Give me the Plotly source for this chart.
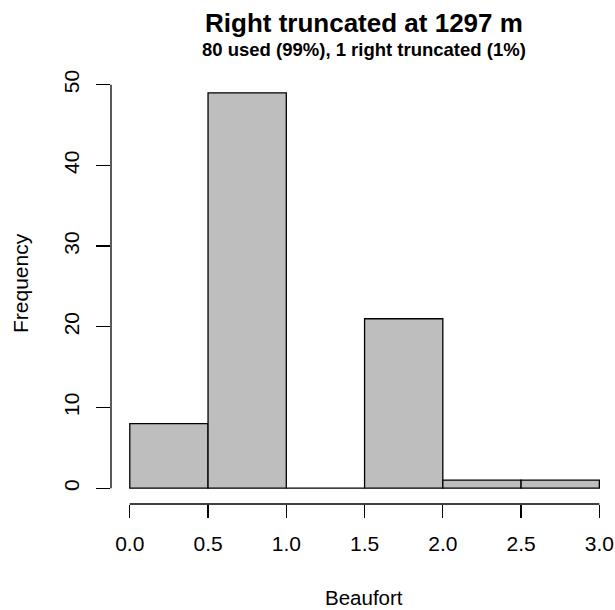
import plotly.graph_objects as go

breaks = [0.0, 0.5, 1.0, 1.5, 2.0, 2.5, 3.0]
counts = [8, 49, 0, 21, 1, 1]
x_ticks = [0.0, 0.5, 1.0, 1.5, 2.0, 2.5, 3.0]
x_tick_labels = ["0.0", "0.5", "1.0", "1.5", "2.0", "2.5", "3.0"]
y_ticks = [0, 10, 20, 30, 40, 50]
y_tick_labels = ["0", "10", "20", "30", "40", "50"]

mids = [(a + b) / 2 for a, b in zip(breaks[:-1], breaks[1:])]
widths = [b - a for a, b in zip(breaks[:-1], breaks[1:])]

FONT = "Liberation Sans, Arial, Helvetica, sans-serif"

fig = go.Figure()
fig.add_trace(go.Bar(
    x=mids, y=counts, width=widths,
    marker=dict(color="#BEBEBE", line=dict(color="black", width=1.3)),
    hoverinfo="skip",
))

W, H = 615, 610
L, R, T, B = 111, 0, 77, 106

fig.update_layout(
    width=W, height=H,
    margin=dict(l=L, r=R, t=T, b=B),
    paper_bgcolor="white", plot_bgcolor="white",
    showlegend=False,
    font=dict(family=FONT, color="black", size=21),
    bargap=0,
    xaxis=dict(
        range=[-0.12, 3.10], showgrid=False, zeroline=False, showline=False,
        tickmode="array", tickvals=x_ticks, ticktext=x_tick_labels,
        ticks="outside", ticklen=13, tickwidth=1.3, tickcolor="black",
        tickfont=dict(size=21), ticklabelstandoff=8,
    ),
    yaxis=dict(
        range=[-1.96, 50.96], showgrid=False, zeroline=False, showline=False,
        tickmode="array", tickvals=y_ticks, ticktext=y_tick_labels,
        ticks="outside", ticklen=14, tickwidth=1.3, tickcolor="black",
        tickfont=dict(size=21), tickangle=-90, ticklabelstandoff=9,
    ),
)

# R-style axis lines spanning first to last tick
fig.add_shape(type="line", xref="x", yref="paper",
              x0=x_ticks[0], x1=x_ticks[-1], y0=0, y1=0,
              line=dict(color="black", width=1.3))
fig.add_shape(type="line", xref="paper", yref="y",
              x0=0, x1=0, y0=y_ticks[0], y1=y_ticks[-1],
              line=dict(color="black", width=1.3))

pw = W - L - R
ph = H - T - B

def px_x(px):
    return (px - L) / pw

def px_y(py):
    return (H - B - py) / ph

fig.add_annotation(text="<b>Right truncated at 1297 m</b>", xref="paper", yref="paper",
                   x=px_x(364), y=px_y(23), xanchor="center", yanchor="middle",
                   showarrow=False, font=dict(size=26, family=FONT))
fig.add_annotation(text="<b>80 used (99%), 1 right truncated (1%)</b>", xref="paper", yref="paper",
                   x=px_x(364), y=px_y(50), xanchor="center", yanchor="middle",
                   showarrow=False, font=dict(size=18.5, family=FONT))
fig.add_annotation(text="Beaufort", xref="paper", yref="paper",
                   x=px_x(364), y=px_y(597), xanchor="center", yanchor="middle",
                   showarrow=False, font=dict(size=20.5, family=FONT))
fig.add_annotation(text="Frequency", xref="paper", yref="paper",
                   x=px_x(20), y=px_y(283), xanchor="center", yanchor="middle",
                   textangle=-90, showarrow=False, font=dict(size=21, family=FONT))

fig.write_html(
    "out.html",
    config={"displayModeBar": False, "staticPlot": True},
    post_script="document.body.style.margin='0px';document.body.style.overflow='hidden';",
)
